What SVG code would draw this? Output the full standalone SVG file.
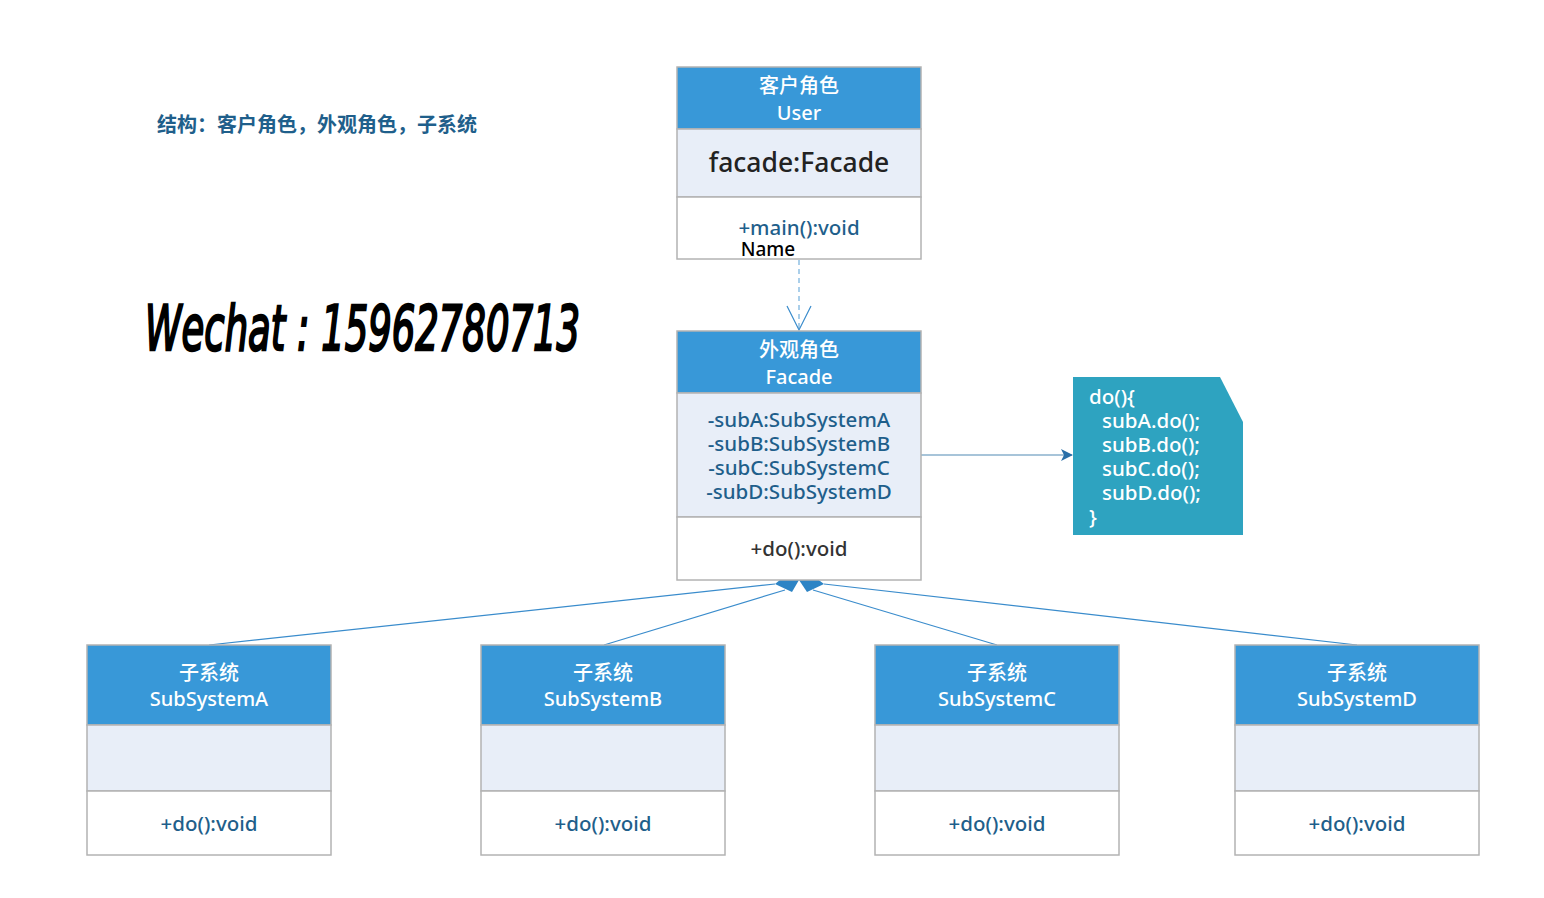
<svg xmlns="http://www.w3.org/2000/svg" width="1544" height="898" viewBox="0 0 1544 898">
<defs>
<style>
text{font-family:"Noto Sans","Noto Sans CJK SC",sans-serif;text-anchor:middle;font-weight:500}
.hd{fill:#3898d8;stroke:#b3b3b3;stroke-width:1.5}
.at{fill:#e8eef8;stroke:#b3b3b3;stroke-width:1.5}
.mt{fill:#ffffff;stroke:#b3b3b3;stroke-width:1.5}
.ht{fill:#ffffff;font-size:20px}
.bl{fill:#1f5f8b;font-size:20.5px}
.dk{fill:#333333;font-size:20.5px}
.ln{stroke:#3a8ccc;stroke-width:1.2;fill:none}
</style>
<marker id="filled" viewBox="0 0 12 12" refX="11" refY="6" markerWidth="12" markerHeight="12" markerUnits="userSpaceOnUse" orient="auto">
<path d="M0,0 L12,6 L0,12 L3,6 Z" fill="#2a6fa8"/>
</marker>
</defs>
<rect width="1544" height="898" fill="#ffffff"/>
<text x="157" y="132" style="text-anchor:start;font-size:20px;font-weight:bold;fill:#1f5f8b" textLength="320" lengthAdjust="spacing">结构：客户角色，外观角色，子系统</text>
<text x="145" y="350" style="text-anchor:start;font-family:'DejaVu Sans','Liberation Sans',sans-serif;font-style:italic;font-weight:normal;font-size:62px;fill:#000000;stroke:#000000;stroke-width:2.5" textLength="435" lengthAdjust="spacingAndGlyphs">Wechat : 15962780713</text>
<g id="connectors">
<line x1="799" y1="260" x2="799" y2="329" stroke="#8ec0e4" stroke-width="1.5" stroke-dasharray="5,4"/>
<polyline points="787,306 799,330 811,306" class="ln"/>
<line x1="921" y1="455" x2="1072" y2="455" stroke="#8ab0cc" stroke-width="1.5" marker-end="url(#filled)"/>
<line x1="775" y1="584" x2="209" y2="645" class="ln"/>
<line x1="785" y1="590" x2="604" y2="645" class="ln"/>
<line x1="813" y1="590" x2="997" y2="645" class="ln"/>
<line x1="824" y1="584" x2="1357" y2="645" class="ln"/>
<polygon points="786,575 799,580 792,592 775,584" fill="#2d84c5"/>
<polygon points="812,575 799,580 807,592 824,584" fill="#2d84c5"/>
</g>
<g id="user">
<rect x="677" y="67" width="244" height="62" class="hd"/>
<rect x="677" y="129" width="244" height="68" class="at"/>
<rect x="677" y="197" width="244" height="62" class="mt"/>
<text x="799" y="93" class="ht">客户角色</text>
<text x="799" y="120" class="ht">User</text>
<text x="799" y="172" style="fill:#222222;font-size:26.5px">facade:Facade</text>
<text x="799" y="235" class="bl">+main():void</text>
<text x="768" y="256" style="fill:#000000;font-size:19px">Name</text>
</g>
<g id="facade">
<rect x="677" y="331" width="244" height="62" class="hd"/>
<rect x="677" y="393" width="244" height="124" class="at"/>
<rect x="677" y="517" width="244" height="63" class="mt"/>
<text x="799" y="357" class="ht">外观角色</text>
<text x="799" y="384" class="ht">Facade</text>
<text x="799" y="427" class="bl">-subA:SubSystemA</text>
<text x="799" y="451" class="bl">-subB:SubSystemB</text>
<text x="799" y="475" class="bl">-subC:SubSystemC</text>
<text x="799" y="499" class="bl">-subD:SubSystemD</text>
<text x="799" y="556" class="dk">+do():void</text>
</g>
<g id="note">
<polygon points="1073,377 1220,377 1243,422 1243,535 1073,535" fill="#2ea3c0"/>
<g style="fill:#ffffff;font-size:20.5px">
<text x="1089" y="404" style="text-anchor:start">do(){</text>
<text x="1102" y="428" style="text-anchor:start">subA.do();</text>
<text x="1102" y="452" style="text-anchor:start">subB.do();</text>
<text x="1102" y="476" style="text-anchor:start">subC.do();</text>
<text x="1102" y="500" style="text-anchor:start">subD.do();</text>
<text x="1089" y="524" style="text-anchor:start">}</text>
</g>
</g>
<g id="subA">
<rect x="87" y="645" width="244" height="80" class="hd"/>
<rect x="87" y="725" width="244" height="66" class="at"/>
<rect x="87" y="791" width="244" height="64" class="mt"/>
<text x="209" y="680" class="ht">子系统</text>
<text x="209" y="706" class="ht">SubSystemA</text>
<text x="209" y="831" class="bl">+do():void</text>
</g>
<g id="subB">
<rect x="481" y="645" width="244" height="80" class="hd"/>
<rect x="481" y="725" width="244" height="66" class="at"/>
<rect x="481" y="791" width="244" height="64" class="mt"/>
<text x="603" y="680" class="ht">子系统</text>
<text x="603" y="706" class="ht">SubSystemB</text>
<text x="603" y="831" class="bl">+do():void</text>
</g>
<g id="subC">
<rect x="875" y="645" width="244" height="80" class="hd"/>
<rect x="875" y="725" width="244" height="66" class="at"/>
<rect x="875" y="791" width="244" height="64" class="mt"/>
<text x="997" y="680" class="ht">子系统</text>
<text x="997" y="706" class="ht">SubSystemC</text>
<text x="997" y="831" class="bl">+do():void</text>
</g>
<g id="subD">
<rect x="1235" y="645" width="244" height="80" class="hd"/>
<rect x="1235" y="725" width="244" height="66" class="at"/>
<rect x="1235" y="791" width="244" height="64" class="mt"/>
<text x="1357" y="680" class="ht">子系统</text>
<text x="1357" y="706" class="ht">SubSystemD</text>
<text x="1357" y="831" class="bl">+do():void</text>
</g>
</svg>
